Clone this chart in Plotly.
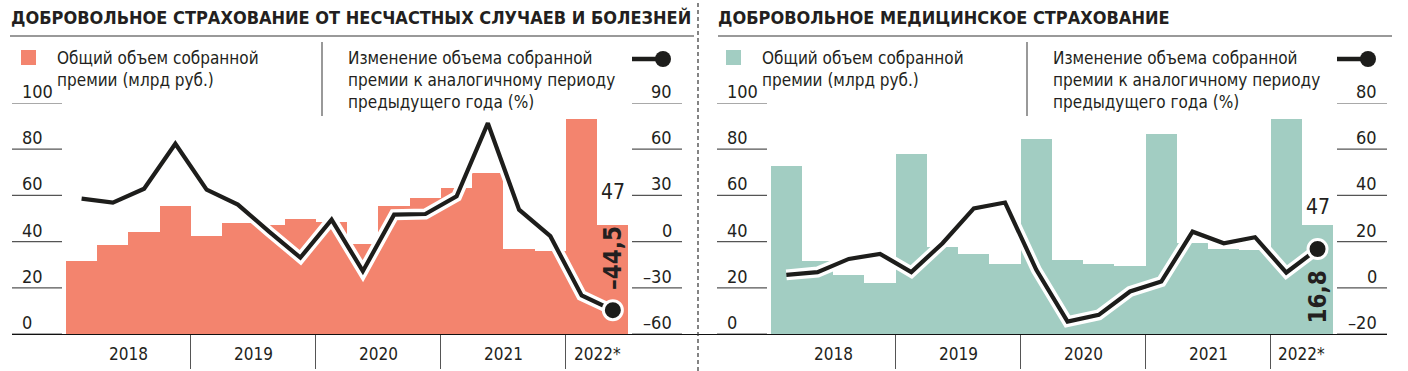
import plotly.graph_objects as go

W, H = 1408, 371

# ---------------- data ----------------
years = ["2018", "2019", "2020", "2021", "2022*"]
quarters_per_year = [4, 4, 4, 4, 2]
quarters = [f"{y[:4]} Q{q+1}" for y, n in zip(years, quarters_per_year) for q in range(n)]

# Left: accident & illness insurance
ns_premium = [31.5, 38.4, 44.0, 55.3, 42.3, 48.0, 47.0, 49.7, 48.4, 38.9,
              55.3, 58.7, 63.0, 69.7, 36.7, 36.0, 92.9, 47.0]
ns_change = [27.9, 25.3, 34.3, 63.5, 33.7, 24.0, 6.5, -10.4, 14.3, -19.2,
             17.5, 17.9, 29.4, 76.9, 20.7, 3.5, -35.0, -44.5]

# Right: voluntary medical insurance
dms_premium = [72.6, 31.5, 25.5, 22.0, 77.8, 37.6, 34.6, 30.2, 84.5, 32.0,
               30.5, 29.5, 86.7, 39.6, 37.0, 36.3, 92.9, 47.0]
dms_change = [5.6, 6.8, 12.5, 14.7, 6.8, 19.3, 34.4, 36.9, 7.8, -14.6,
              -11.7, -1.6, 2.7, 24.3, 19.3, 21.9, 6.6, 16.8]

left_ticks = [0, 20, 40, 60, 80, 100]
ns_right_ticks = [-60, -30, 0, 30, 60, 90]
dms_right_ticks = [-20, 0, 20, 40, 60, 80]

titles = ["ДОБРОВОЛЬНОЕ СТРАХОВАНИЕ ОТ НЕСЧАСТНЫХ СЛУЧАЕВ И БОЛЕЗНЕЙ",
          "ДОБРОВОЛЬНОЕ МЕДИЦИНСКОЕ СТРАХОВАНИЕ"]
legend_bar = ["Общий объем собранной", "премии (млрд руб.)"]
legend_line = ["Изменение объема собранной", "премии к аналогичному периоду",
               "предыдущего года (%)"]

# ---------------- style ----------------
FONT = "DejaVu Sans Condensed, Liberation Sans Narrow, sans-serif"
TXT = "#231f20"
SALMON = "#F3846E"
TEAL = "#A2CDC2"
LINE = "#1d1d1b"


def fx(p):
    return p / W


def fy(p):
    return 1 - p / H


def fmt(v):
    s = f"{v:.1f}".replace(".", ",")
    return s.replace("-", "–")


def tick_txt(v):
    return str(v).replace("-", "–")


xpos = list(range(len(quarters)))

fig = go.Figure()

panels = [
    dict(prem=ns_premium, chg=ns_change, rticks=ns_right_ticks, rrange=[-60, 90],
         color=SALMON, off=0, x0=12, x1=698, c0=81.6, title=titles[0], tx=9,
         xa="x", ya="y", ya2="y2", lbl47_shift=19, lab_shift=-52),
    dict(prem=dms_premium, chg=dms_change, rticks=dms_right_ticks, rrange=[-20, 80],
         color=TEAL, off=705, x0=698, x1=1387, c0=786.3, title=titles[1], tx=716,
         xa="x2", ya="y3", ya2="y4", lbl47_shift=4, lab_shift=48),
]

QW = 31.25
ydom = [fy(334), fy(103)]
year_div = []
acc = 0
for n in quarters_per_year[:-1]:
    acc += n
    year_div.append(acc - 0.5)
year_mid = []
acc = 0
for n in quarters_per_year:
    year_mid.append(acc + (n - 1) / 2)
    acc += n

shapes = []
annotations = []

for i, p in enumerate(panels):
    xa, ya, ya2 = p["xa"], p["ya"], p["ya2"]
    fig.add_trace(go.Bar(x=xpos, y=p["prem"], marker=dict(color=p["color"], line=dict(width=0)),
                         width=1.0, xaxis=xa, yaxis=ya, showlegend=False, hoverinfo="skip"))
    fig.add_trace(go.Scatter(x=xpos, y=p["chg"], mode="lines",
                             line=dict(color="white", width=11), xaxis=xa, yaxis=ya2,
                             showlegend=False, hoverinfo="skip"))
    fig.add_trace(go.Scatter(x=xpos, y=p["chg"], mode="lines",
                             line=dict(color=LINE, width=4.2), xaxis=xa, yaxis=ya2,
                             showlegend=False, hoverinfo="skip"))
    fig.add_trace(go.Scatter(x=[xpos[-1]], y=[p["chg"][-1]], mode="markers",
                             marker=dict(color=LINE, size=19, line=dict(color="white", width=3)),
                             xaxis=xa, yaxis=ya2, showlegend=False, hoverinfo="skip"))

    rng = [(p["x0"] - p["c0"]) / QW, (p["x1"] - p["c0"]) / QW]
    axkey = "xaxis" if xa == "x" else "xaxis2"
    fig.layout[axkey] = dict(domain=[fx(p["x0"]), fx(p["x1"])], range=rng, anchor=ya,
                             showline=True, linecolor="#111", linewidth=1.4,
                             tickvals=year_div, ticks="outside", ticklen=34,
                             tickwidth=1.2, tickcolor="#555", showticklabels=False,
                             showgrid=False, zeroline=False, fixedrange=True)
    ykey = "yaxis" if ya == "y" else "yaxis" + ya[1:]
    y2key = "yaxis" + ya2[1:]
    fig.layout[ykey] = dict(domain=ydom, range=[0, 100], anchor=xa, visible=False,
                            fixedrange=True)
    fig.layout[y2key] = dict(domain=ydom, range=p["rrange"], anchor=xa, overlaying=ya,
                             visible=False, fixedrange=True)

    off = p["off"]
    # left tick labels + short lines
    for t in left_ticks:
        shapes.append(dict(type="line", xref="paper", yref=ya, x0=fx(12 + off), x1=fx(62 + off),
                           y0=t, y1=t, line=dict(color="#555", width=1.2)))
        annotations.append(dict(xref="paper", yref=ya, x=fx(20 + off), y=t, text=tick_txt(t),
                                xanchor="left", yanchor="bottom", showarrow=False, yshift=-1,
                                font=dict(family=FONT, size=18, color=TXT)))
    for t in p["rticks"]:
        shapes.append(dict(type="line", xref="paper", yref=ya2, x0=fx(632 + off), x1=fx(682 + off),
                           y0=t, y1=t, line=dict(color="#555", width=1.2)))
        annotations.append(dict(xref="paper", yref=ya2, x=fx(674 + off), y=t, text=tick_txt(t),
                                xanchor="right", yanchor="bottom", showarrow=False, yshift=-1,
                                font=dict(family=FONT, size=18, color=TXT)))
    # year labels
    for yl, ym in zip(years, year_mid):
        annotations.append(dict(xref=xa, yref="paper", x=ym, y=fy(354), text=yl,
                                xanchor="center", yanchor="middle", showarrow=False,
                                font=dict(family=FONT, size=17, color=TXT)))
    # last bar value label
    annotations.append(dict(xref=xa, yref=ya, x=xpos[-1], y=p["prem"][-1],
                            text=f"{p['prem'][-1]:.0f}", xanchor="center", yanchor="bottom",
                            showarrow=False, yshift=p["lbl47_shift"],
                            font=dict(family=FONT, size=21, color=TXT)))
    # last line value label (rotated)
    annotations.append(dict(xref=xa, yref=ya2, x=xpos[-1], y=p["chg"][-1],
                            text=f"<b>{fmt(p['chg'][-1])}</b>", textangle=-90,
                            xanchor="center", yanchor="middle", showarrow=False,
                            yshift=-p["lab_shift"],
                            font=dict(family=FONT, size=24, color=TXT)))
    # title
    annotations.append(dict(xref="paper", yref="paper", x=fx(p["tx"]), y=fy(18),
                            text=f"<b>{p['title']}</b>", xanchor="left", yanchor="middle",
                            showarrow=False, font=dict(family=FONT, size=18, color=TXT)))
    tx0 = 10 if i == 0 else 718
    tx1 = 694 if i == 0 else 1392
    shapes.append(dict(type="line", xref="paper", yref="paper", x0=fx(tx0), x1=fx(tx1),
                       y0=fy(36), y1=fy(36), line=dict(color="#777", width=1.3)))
    # legend
    shapes.append(dict(type="rect", xref="paper", yref="paper", x0=fx(21 + off), x1=fx(36 + off),
                       y0=fy(65), y1=fy(50), fillcolor=p["color"], line=dict(width=0)))
    for k, line_txt in enumerate(legend_bar):
        annotations.append(dict(xref="paper", yref="paper", x=fx(55 + off), y=fy(58 + 22 * k),
                                text=line_txt, xanchor="left", yanchor="middle", showarrow=False,
                                font=dict(family=FONT, size=17, color=TXT)))
    shapes.append(dict(type="line", xref="paper", yref="paper", x0=fx(322 + off), x1=fx(322 + off),
                       y0=fy(42), y1=fy(116), line=dict(color="#555", width=1.2)))
    for k, line_txt in enumerate(legend_line):
        annotations.append(dict(xref="paper", yref="paper", x=fx(346 + off), y=fy(58 + 22 * k),
                                text=line_txt, xanchor="left", yanchor="middle", showarrow=False,
                                font=dict(family=FONT, size=17, color=TXT)))
    shapes.append(dict(type="line", xref="paper", yref="paper", x0=fx(632 + off), x1=fx(656 + off),
                       y0=fy(59), y1=fy(59), line=dict(color=LINE, width=4.5)))
    shapes.append(dict(type="circle", xref="paper", yref="paper", x0=fx(655 + off), x1=fx(671 + off),
                       y0=fy(67), y1=fy(51), fillcolor=LINE, line=dict(width=0)))

# panel separator
shapes.append(dict(type="line", xref="paper", yref="paper", x0=fx(698), x1=fx(698),
                   y0=0, y1=1, line=dict(color="#333", width=1.2, dash="4px,3px")))

fig.update_layout(width=W, height=H, margin=dict(l=0, r=0, t=0, b=0),
                  paper_bgcolor="white", plot_bgcolor="rgba(0,0,0,0)",
                  bargap=0, barmode="overlay", showlegend=False,
                  shapes=shapes, annotations=annotations,
                  font=dict(family=FONT, color=TXT))

fig.write_html("out.html", config={"displayModeBar": False})

# remove the default page margin so the figure sits at the window origin
with open("out.html", "r", encoding="utf-8") as fh:
    html = fh.read()
html = html.replace("<body>", '<body style="margin:0;overflow:hidden">', 1)
with open("out.html", "w", encoding="utf-8") as fh:
    fh.write(html)
